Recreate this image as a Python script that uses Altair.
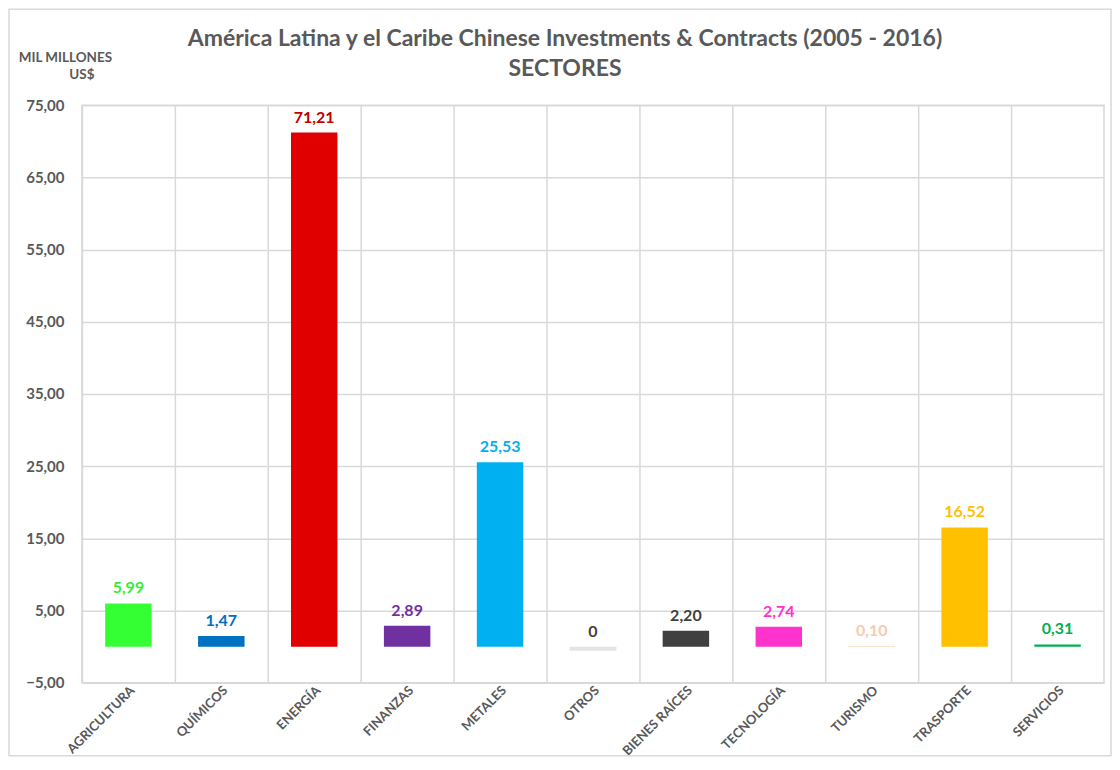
import altair as alt
import pandas as pd

sectores = ["AGRICULTURA", "QUÍMICOS", "ENERGÍA", "FINANZAS", "METALES", "OTROS",
            "BIENES RAÍCES", "TECNOLOGÍA", "TURISMO", "TRASPORTE", "SERVICIOS"]
valores = [5.99, 1.47, 71.21, 2.89, 25.53, 0.0, 2.20, 2.74, 0.10, 16.52, 0.31]
colores = ["#33FF33", "#0070C0", "#E00000", "#7030A0", "#00B0F0", "#D9D9D9",
           "#404040", "#FF33CC", "#FAD7B5", "#FFC000", "#00B050"]
colores_etiqueta = ["#33EE33", "#0070C0", "#C00000", "#7030A0", "#00B0F0", "#404040",
                    "#404040", "#FF33CC", "#F8CBAD", "#FFC000", "#00B050"]
ticks_y = [-5, 5, 15, 25, 35, 45, 55, 65, 75]

etiquetas = ["0" if v == 0 else f"{v:.2f}".replace(".", ",") for v in valores]

df = pd.DataFrame({
    "sector": sectores,
    "valor": valores,
    "color": colores,
    "color_etq": colores_etiqueta,
    "etiqueta": etiquetas,
})

FONT = "Lato"
GRAY = "#595959"
GRID = "#D9D9D9"

x_enc = alt.X("sector:N", sort=sectores,
              scale=alt.Scale(paddingInner=0, paddingOuter=0),
              axis=alt.Axis(title=None, labelAngle=-45, labelFont=FONT, labelFontSize=13,
                            labelFontWeight="bold", labelColor=GRAY, ticks=False, domain=False,
                            grid=True, gridColor=GRID, gridWidth=1.5, bandPosition=0,
                            labelPadding=1))
y_enc = alt.Y("valor:Q",
              scale=alt.Scale(domain=[-5, 75], zero=False, nice=False),
              axis=alt.Axis(values=ticks_y, title="MIL MILLONES", titleAngle=0,
                            titleX=-17, titleY=-48, titleAlign="center", titleBaseline="middle",
                            titleFont=FONT, titleFontSize=13.5, titleFontWeight="bold",
                            titleColor=GRAY,
                            labelExpr="replace(format(datum.value, '.2f'), '.', ',')",
                            labelFont=FONT, labelFontSize=15, labelFontWeight="bold",
                            labelColor=GRAY, labelPadding=18, ticks=False, domain=False,
                            grid=True, gridColor=GRID, gridWidth=1.5))

base = alt.Chart(df)

bars = base.mark_bar(width={"band": 0.5}).encode(
    x=x_enc,
    y=y_enc,
    y2=alt.datum(0),
    color=alt.Color("color:N", scale=None),
)

zero_line = base.transform_filter("datum.valor == 0").mark_tick(
    thickness=4, width=47, color="#D9D9D9").encode(
    x=alt.X("sector:N", sort=sectores),
    y=alt.datum(-0.3),
)

labels = base.mark_text(font=FONT, fontSize=16, fontWeight="bold", baseline="bottom", dy=-7).encode(
    x=alt.X("sector:N", sort=sectores),
    y=alt.Y("valor:Q"),
    text="etiqueta:N",
    color=alt.Color("color_etq:N", scale=None),
)

unidad = alt.Chart(pd.DataFrame({"t": ["US$"]})).mark_text(
    font=FONT, fontSize=13.5, fontWeight="bold", color=GRAY, align="center", baseline="middle").encode(
    x=alt.value(0), y=alt.value(-30), text="t:N",
)

frame = alt.Chart(pd.DataFrame({"k": [0]})).mark_rect(
    fill=None, stroke="#D9D9D9", strokeWidth=1.5, clip=False).encode(
    x=alt.value(-73), x2=alt.value(1030), y=alt.value(-96), y2=alt.value(651),
)

chart = alt.layer(frame, bars, zero_line, labels, unidad).properties(
    width=1023,
    height=578,
    autosize=alt.AutoSizeParams(type="none"),
    padding={"left": 74, "top": 97, "right": 8, "bottom": 75},
    background="white",
    title=alt.TitleParams(
        text=["América Latina y el Caribe Chinese Investments & Contracts (2005 - 2016)", "SECTORES"],
        font=FONT, fontSize=23, fontWeight="bold", color=GRAY, anchor="middle",
        frame="group", dx=-28, offset=-72, lineHeight=30,
    ),
).configure_view(stroke=GRID, strokeWidth=1.5)

chart.save("out.html", embed_options={"renderer": "svg", "actions": False})
